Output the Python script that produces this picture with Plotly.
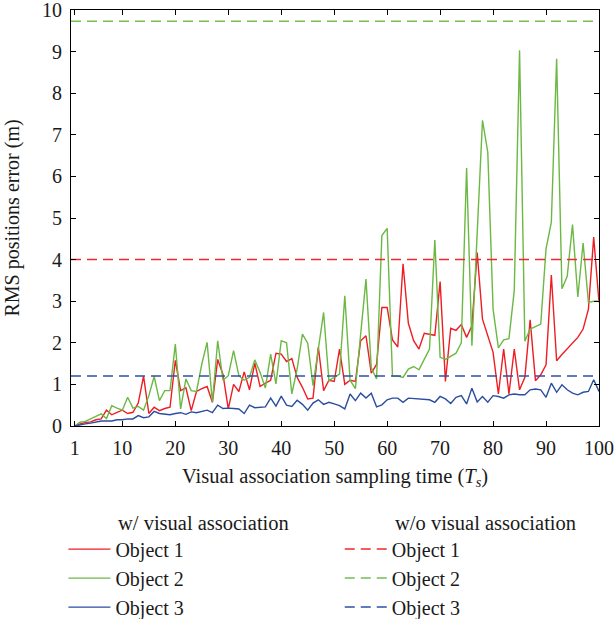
import plotly.graph_objects as go

# Sampling instants (in units of T_s)
steps = list(range(1, 101))

# RMS position error with visual association (m)
obj1_with = [
    0.0, 0.05, 0.08, 0.10, 0.15, 0.17, 0.38, 0.27, 0.33, 0.38,
    0.30, 0.33, 0.55, 1.20, 0.30, 0.45, 0.37, 0.42, 0.45, 1.58,
    0.85, 0.92, 0.37, 0.83, 0.90, 0.95, 0.57, 1.60, 1.24, 0.41,
    1.00, 0.83, 1.30, 0.87, 1.51, 0.95, 1.03, 1.10, 1.75, 1.73,
    1.55, 1.62, 1.17, 0.93, 0.65, 0.67, 1.90, 0.85, 1.10, 1.07,
    1.85, 1.00, 1.10, 1.07, 2.05, 2.17, 1.27, 1.48, 2.85, 2.85,
    2.07, 1.90, 3.90, 2.47, 2.05, 1.85, 2.23, 2.20, 2.18, 3.47,
    1.07, 2.35, 2.30, 2.44, 2.13, 2.41, 4.17, 2.57, 2.17, 1.77,
    0.77, 1.85, 0.77, 1.85, 0.87, 1.17, 2.55, 1.09, 1.23, 1.47,
    3.63, 1.57, 1.72, 1.86, 2.00, 2.13, 2.33, 2.81, 4.54, 2.97,
]
obj2_with = [
    0.0, 0.09, 0.11, 0.17, 0.22, 0.29, 0.18, 0.49, 0.43, 0.38,
    0.69, 0.43, 0.47, 0.38, 0.73, 1.19, 0.61, 0.85, 0.85, 1.97,
    0.41, 1.13, 0.85, 0.83, 1.49, 2.01, 0.57, 2.05, 1.10, 1.21,
    1.81, 1.21, 1.10, 1.17, 1.59, 1.29, 0.91, 1.73, 1.01, 2.05,
    2.00, 0.77, 1.37, 2.21, 1.99, 0.97, 1.85, 2.73, 1.09, 1.17,
    1.25, 3.13, 1.10, 0.90, 2.13, 3.53, 1.40, 1.13, 4.58, 4.75,
    1.20, 1.20, 1.17, 1.37, 1.43, 1.35, 1.60, 1.85, 4.47, 1.65,
    1.60, 1.67, 1.75, 2.00, 6.20, 1.93, 4.60, 7.35, 6.58, 2.81,
    1.88, 2.07, 2.10, 3.26, 9.03, 2.04, 2.33, 2.39, 2.45, 4.26,
    4.90, 8.83, 3.30, 3.60, 4.84, 3.10, 4.40, 2.97, 3.00, 3.00,
]
obj3_with = [
    0.0, 0.03, 0.05, 0.07, 0.10, 0.12, 0.12, 0.12, 0.15, 0.15,
    0.17, 0.17, 0.25, 0.20, 0.22, 0.35, 0.30, 0.29, 0.27, 0.30,
    0.32, 0.28, 0.34, 0.32, 0.35, 0.38, 0.32, 0.50, 0.42, 0.43,
    0.42, 0.41, 0.30, 0.50, 0.44, 0.45, 0.46, 0.67, 0.48, 0.72,
    0.50, 0.47, 0.62, 0.52, 0.38, 0.55, 0.63, 0.52, 0.57, 0.53,
    0.49, 0.41, 0.77, 0.61, 0.79, 0.67, 0.79, 0.46, 0.51, 0.63,
    0.67, 0.67, 0.57, 0.67, 0.66, 0.65, 0.63, 0.63, 0.57, 0.71,
    0.65, 0.54, 0.69, 0.73, 0.53, 0.91, 0.58, 0.71, 0.57, 0.73,
    0.71, 0.67, 0.75, 0.77, 0.75, 0.75, 0.87, 0.89, 0.87, 0.69,
    1.03, 0.81, 0.99, 0.87, 0.79, 0.75, 0.81, 0.83, 1.11, 0.83,
]

# RMS position error without visual association (constant levels, m)
obj_without = [4.0, 9.73, 1.2]

names = ["Object 1", "Object 2", "Object 3"]
solid_colors = ["#ee1d23", "#6cb844", "#2b4da0"]
dash_colors = ["#f0282b", "#74c052", "#2f50a8"]

x_range = [0.3, 100]
y_range = [0, 10]
x_ticks = [1, 10, 20, 30, 40, 50, 60, 70, 80, 90, 100]
y_ticks = list(range(0, 11))

FONT = "Liberation Serif"
TEXT_COLOR = "#1a1a1a"

fig = go.Figure()

for name, ys, col in zip(names, [obj1_with, obj2_with, obj3_with], solid_colors):
    fig.add_trace(go.Scatter(
        x=steps, y=ys, mode="lines", name=name,
        line=dict(color=col, width=1.4),
        legend="legend",
    ))

for name, level, col in zip(names, obj_without, dash_colors):
    fig.add_trace(go.Scatter(
        x=x_range, y=[level, level], mode="lines", name=name,
        line=dict(color=col, width=1.5, dash="10px,6px"),
        legend="legend2",
    ))

axis_common = dict(
    showline=True, linecolor="black", linewidth=1.2, mirror="ticks",
    ticks="inside", ticklen=5, tickcolor="black", tickwidth=1.2,
    showgrid=False, zeroline=False, ticklabelstandoff=4,
    ticklabeloverflow="allow",
    tickfont=dict(family=FONT, size=20, color=TEXT_COLOR),
)

fig.update_xaxes(range=x_range, tickvals=x_ticks, **axis_common,
                 title=dict(text="Visual association sampling time (<i>T<sub>s</sub></i>)",
                            font=dict(family=FONT, size=20.5, color=TEXT_COLOR), standoff=10))
fig.update_yaxes(range=y_range, tickvals=y_ticks, **axis_common,
                 title=dict(text="RMS positions error (m)",
                            font=dict(family=FONT, size=20, color=TEXT_COLOR), standoff=16))

legend_common = dict(
    bgcolor="rgba(0,0,0,0)", borderwidth=0, itemwidth=42,
    font=dict(family=FONT, size=20, color=TEXT_COLOR),
    yanchor="top", xanchor="left", tracegroupgap=0,
)

header_font = dict(family=FONT, size=20.5, color=TEXT_COLOR)

fig.update_layout(
    width=614, height=619,
    margin=dict(l=71, r=15, t=10, b=193, autoexpand=False),
    paper_bgcolor="white", plot_bgcolor="white",
    legend=dict(x=-0.0144, y=-0.249, **legend_common),
    legend2=dict(x=0.509, y=-0.249, **legend_common),
    annotations=[
        dict(text="w/ visual association", xref="paper", yref="paper",
             x=0.0852, y=-0.233, xanchor="left", yanchor="middle", showarrow=False,
             font=header_font),
        dict(text="w/o visual association", xref="paper", yref="paper",
             x=0.609, y=-0.233, xanchor="left", yanchor="middle", showarrow=False,
             font=header_font),
    ],
)

fig.write_html("out.html")
